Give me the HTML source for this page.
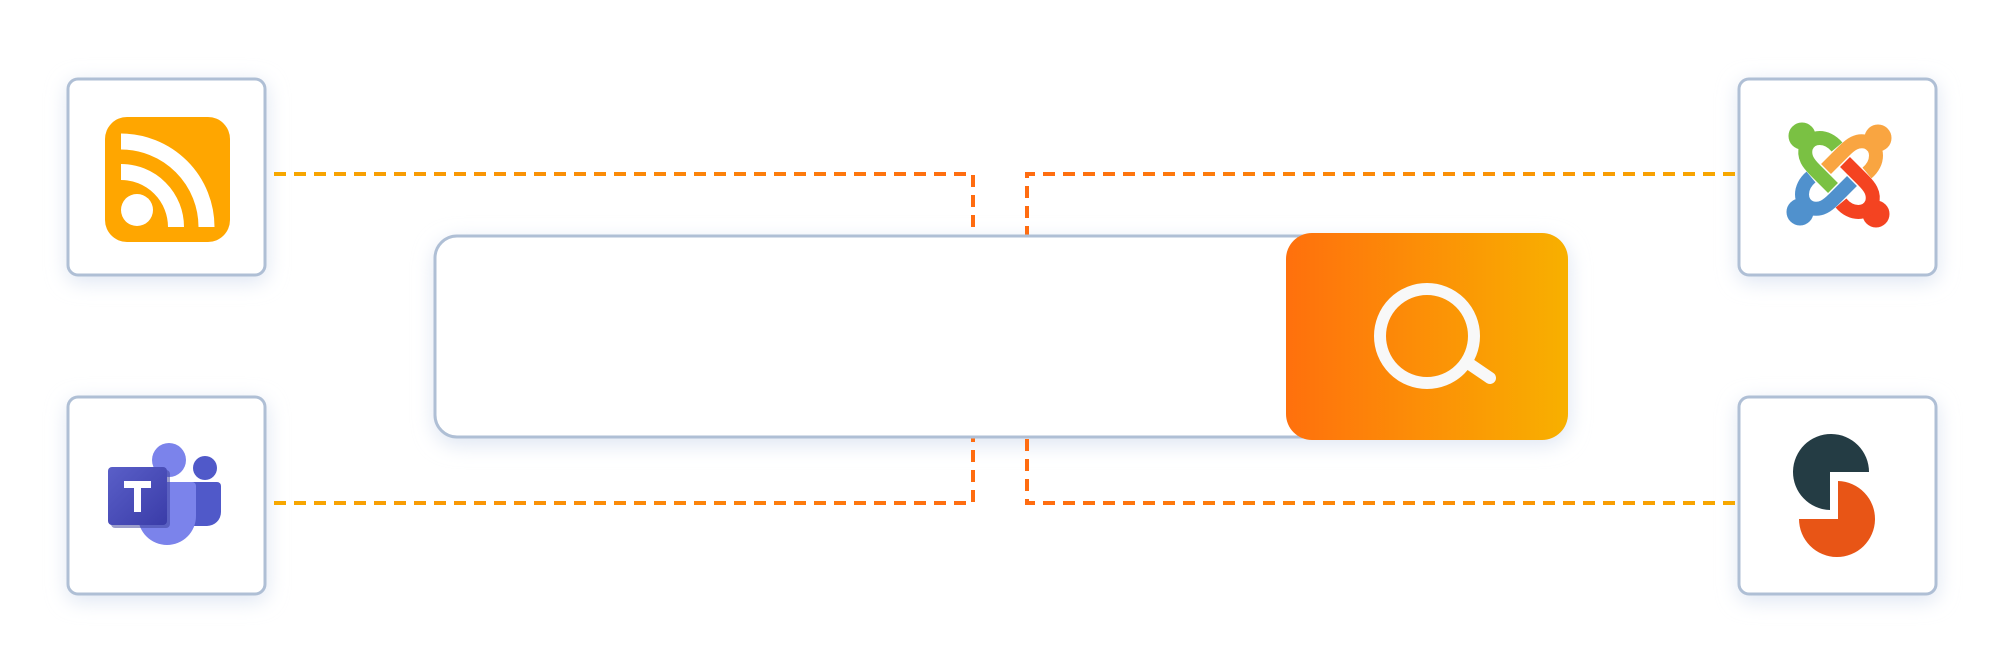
<!DOCTYPE html>
<html><head><meta charset="utf-8"><style>
html,body{margin:0;padding:0;background:#fff;width:2001px;height:672px;overflow:hidden}
</style></head><body>
<svg width="2001" height="672" viewBox="0 0 2001 672" xmlns="http://www.w3.org/2000/svg">
<defs>
<linearGradient id="gl" x1="274" y1="0" x2="975" y2="0" gradientUnits="userSpaceOnUse"><stop offset="0" stop-color="#f7a800"/><stop offset="1" stop-color="#ff6c10"/></linearGradient>
<linearGradient id="gr" x1="1027" y1="0" x2="1735" y2="0" gradientUnits="userSpaceOnUse"><stop offset="0" stop-color="#ff6c10"/><stop offset="1" stop-color="#f7a800"/></linearGradient>
<linearGradient id="gb" x1="1286" y1="0" x2="1568" y2="0" gradientUnits="userSpaceOnUse"><stop offset="0" stop-color="#ff700d"/><stop offset="1" stop-color="#f8b000"/></linearGradient>
<linearGradient id="gt" x1="0" y1="0" x2="1" y2="1"><stop offset="0" stop-color="#5a5fc8"/><stop offset="1" stop-color="#3a3ca8"/></linearGradient>
<filter id="sh" x="-20%" y="-20%" width="140%" height="140%"><feGaussianBlur stdDeviation="10"/></filter>
<g id="jp">
<circle cx="-37" cy="-39" r="13"/>
<path d="M-2 -28 C-12 -40 -28 -40 -33 -28 C-36 -18 -30 -11 -24 -5 L-6 13" fill="none" stroke-width="14"/>
</g>
</defs>
<g fill="#dfe6f3" filter="url(#sh)">
<rect x="67" y="82" width="200" height="200" rx="12"/>
<rect x="67" y="401" width="200" height="200" rx="12"/>
<rect x="1738" y="82" width="200" height="200" rx="12"/>
<rect x="1738" y="401" width="200" height="200" rx="12"/>
<rect x="434" y="240" width="1135" height="205" rx="24"/>
</g>
<g fill="none" stroke-width="4" stroke-dasharray="12 8">
<path d="M274 174 H973 V236" stroke="url(#gl)"/>
<path d="M274 503 H973 V438" stroke="url(#gl)"/>
<path d="M1735 174 H1027 V236" stroke="url(#gr)"/>
<path d="M1735 503 H1027 V438" stroke="url(#gr)"/>
</g>
<rect x="435" y="236" width="1000" height="201" rx="22" fill="#fff" stroke="#afbfd5" stroke-width="3"/>
<rect x="1286" y="233" width="282" height="207" rx="26" fill="url(#gb)"/>
<circle cx="1427" cy="336" r="47" fill="none" stroke="#f8f8f8" stroke-width="12"/>
<line x1="1468" y1="363" x2="1490" y2="378" stroke="#f8f8f8" stroke-width="12" stroke-linecap="round"/>
<g fill="#fff" stroke="#afbfd5" stroke-width="3">
<rect x="68" y="79" width="197" height="196" rx="10"/>
<rect x="68" y="397" width="197" height="197" rx="10"/>
<rect x="1739" y="79" width="197" height="196" rx="10"/>
<rect x="1739" y="397" width="197" height="197" rx="10"/>
</g>
<!-- RSS -->
<rect x="105" y="117" width="125" height="125" rx="22" fill="#ffa600"/>
<g fill="none" stroke="#fff" stroke-width="16">
<path d="M121 141.5 A85.5 85.5 0 0 1 206.5 227"/>
<path d="M121 172 A55 55 0 0 1 176 227"/>
</g>
<circle cx="137" cy="210" r="16" fill="#fff"/>
<!-- Teams -->
<circle cx="169" cy="460" r="17" fill="#7b83eb"/>
<circle cx="205" cy="468" r="12" fill="#5059c9"/>
<path d="M185 482 h32 a4 4 0 0 1 4 4 v26 a14 14 0 0 1 -14 14 h-18 z" fill="#5059c9"/>
<path d="M138 482 h54 a4 4 0 0 1 4 4 v30 a29 29 0 0 1 -58 0 z" fill="#7b83eb"/>
<rect x="108" y="467" width="59" height="58" rx="4" fill="#3a3d97" opacity=".5" transform="translate(3,3)"/>
<rect x="108" y="467" width="59" height="58" rx="4" fill="url(#gt)"/>
<path d="M124 481 h27 v7 h-10 v24 h-7 v-24 h-10 z" fill="#fff"/>
<!-- Joomla -->
<g transform="translate(1839,175)">
<use href="#jp" fill="#5091cd" stroke="#5091cd" transform="rotate(270)"/>
<use href="#jp" fill="#f44321" stroke="#f44321" transform="rotate(180)"/>
<use href="#jp" fill="#f9a541" stroke="#f9a541" transform="rotate(90)"/>
<use href="#jp" fill="#7ac143" stroke="#7ac143"/>
</g>
<!-- S logo -->
<path d="M1869 472 A38 38 0 1 0 1830 510 V472 Z" fill="#243c44"/>
<path d="M1838 481 A38 38 0 1 1 1799 519 H1838 Z" fill="#e85516"/>
</svg>
</body></html>
